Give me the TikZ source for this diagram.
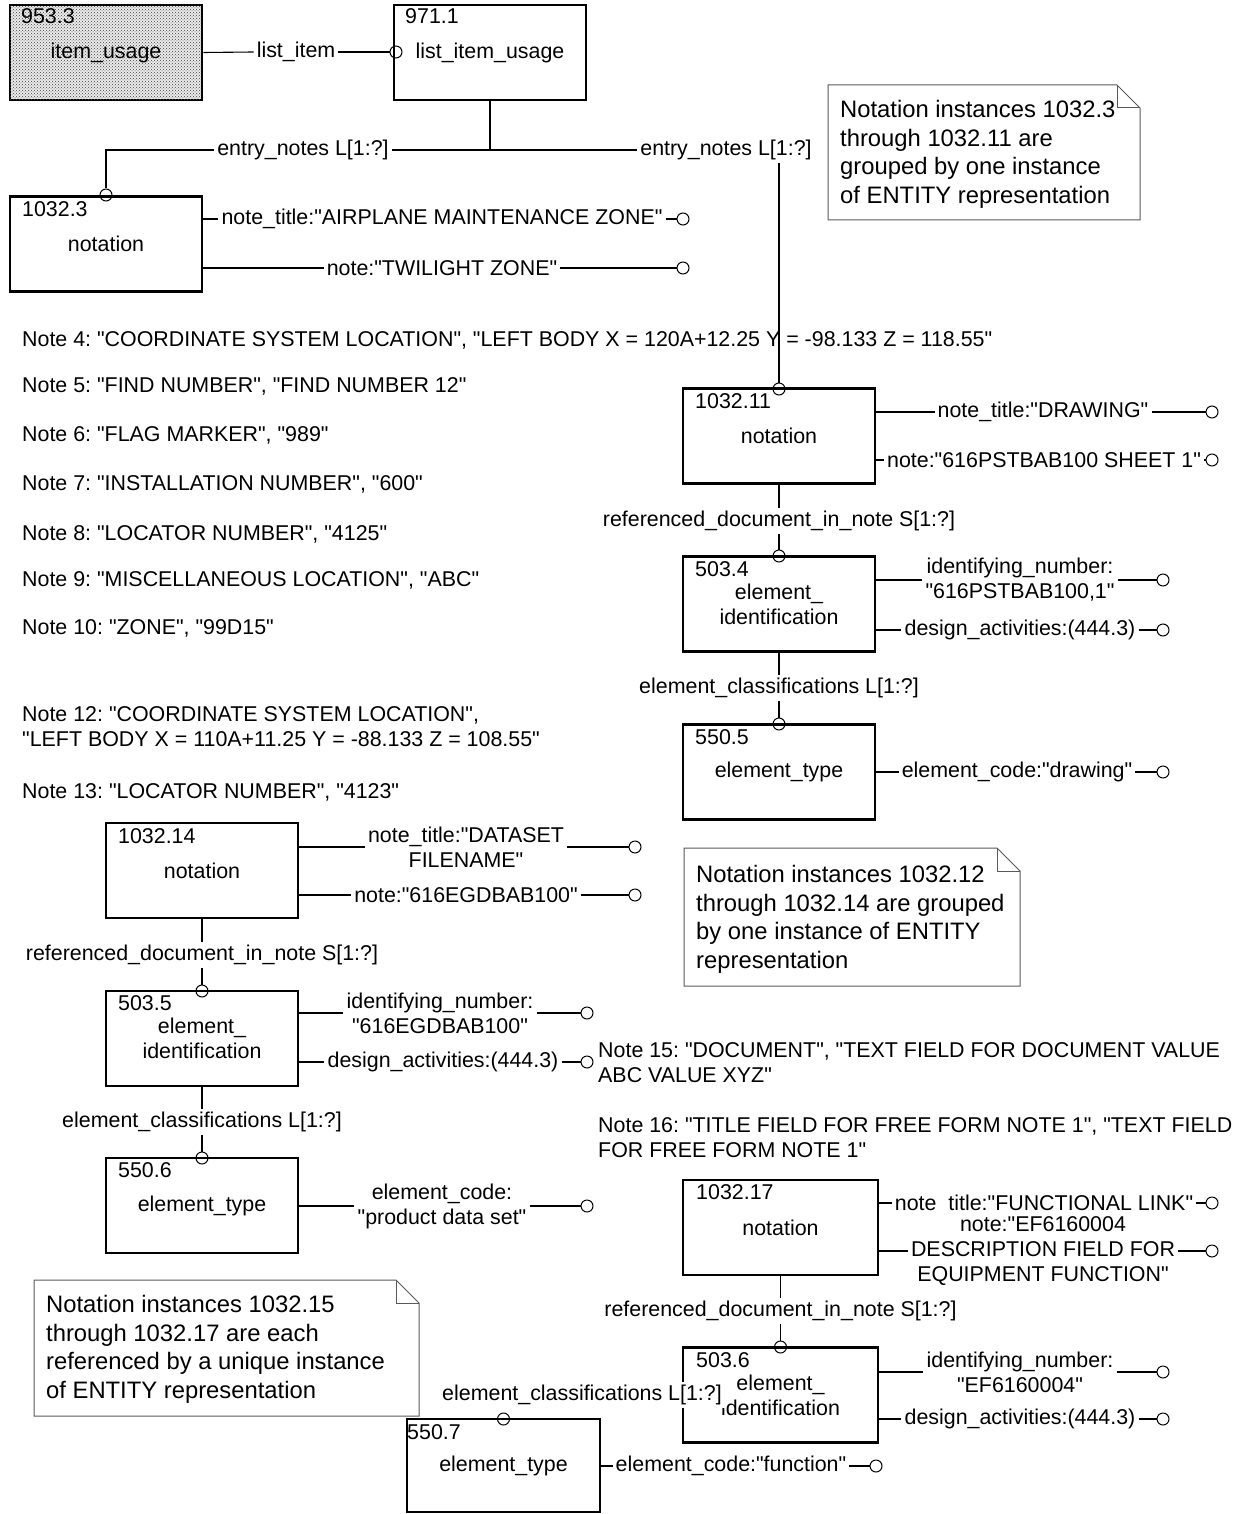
\documentclass[tikz,border=0pt]{standalone}
\usepackage{fontspec}
\setmainfont{Liberation Sans}[Ligatures=TeXOff]
\usetikzlibrary{patterns}
\frenchspacing
\newcommand{\fsmain}{\fontsize{21.4}{25}\selectfont}
\newcommand{\fsnote}{\fontsize{23.8}{28.6}\selectfont}
% attribute row: box, name, label x, y, pin x, text
\newcommand{\attrrow}[6]{%
  \node[lbl] (#2) at (#3,#4) {#6};
  \node[pin] (#2p) at (#5,#4) {};
  \draw[conn] (#1.east |- #2.west) -- (#2.west);
  \draw[conn] (#2.east) -- (#2p.west);}
% memo box with dog-ear: x1, y1, x2, y2
\newcommand{\memobox}[4]{%
  \draw[memo] (#1,#2) -- ({#3-23},#2) -- (#3,{#2+23}) -- (#3,#4) -- (#1,#4) -- cycle;
  \draw[memo] ({#3-23},#2) -- ({#3-23},{#2+23}) -- (#3,{#2+23});}
\begin{document}
\begin{tikzpicture}[x=1pt,y=-1pt,
  every node/.style={font=\fsmain, inner sep=0pt},
  ent/.style={draw, line width=2.8pt, minimum width=192pt, minimum height=95pt, align=center},
  num/.style={anchor=north west},
  lbl/.style={inner sep=3pt, align=center, fill=white},
  pin/.style={circle, draw, line width=1pt, minimum size=12pt, inner sep=0pt},
  conn/.style={line width=1.1pt},
  memo/.style={draw=black!65, line width=1pt},
  memotext/.style={font=\fsnote, align=left, anchor=north west},
  freetext/.style={anchor=west},
  freeblock/.style={anchor=north west, align=left},
]
\useasboundingbox (0,0) rectangle (1249,1514);

% ---------- entities ----------
\node[ent, fill=black!8, postaction={pattern=crosshatch dots, pattern color=black!75}] (iu) at (106,52.5) {};
\node (iut) at (106,52.5) {item\_usage};
\node[num] (iun) at (21,8) {953.3};
\node[ent] (liu) at (490,52.5) {list\_item\_usage};
\node[num] (liun) at (405,8) {971.1};

\node[ent] (n3) at (106,244) {notation};
\node[num] (n3n) at (22,201) {1032.3};

\node[ent] (n11) at (779,436) {notation};
\node[num] (n11n) at (695,393) {1032.11};
\node[ent] (e4) at (779,604) {element\_\\identification};
\node[num] (e4n) at (695,561) {503.4};
\node[ent] (t5) at (779,772) {element\_type};
\node[num] (t5n) at (695,729) {550.5};

\node[ent] (n14) at (202,870.5) {notation};
\node[num] (n14n) at (118,828) {1032.14};
\node[ent] (e5) at (202,1038.5) {element\_\\identification};
\node[num] (e5n) at (118,995) {503.5};
\node[ent] (t6) at (202,1205.5) {element\_type};
\node[num] (t6n) at (118,1162) {550.6};

\node[ent, minimum width=195pt] (n17) at (780.5,1227.5) {notation};
\node[num] (n17n) at (696,1184) {1032.17};
\node[ent, minimum width=195pt] (e6) at (780.5,1395) {element\_\\identification};
\node[num] (e6n) at (696,1352) {503.6};
\node[ent, minimum width=193pt, minimum height=93pt] (t7) at (503.5,1465.5) {element\_type};
\node[num] (t7n) at (407,1424) {550.7};

% ---------- top connectors ----------
\node[lbl] (lli) at (296,52) {list\_item};
\node[pin] (pli) at (396,52) {};
\draw[conn] (iu.east) -- (lli.west);
\draw[conn] (lli.east) -- (pli.west);

\coordinate (j1) at (490,150);
\node[lbl] (en1) at (303,150) {entry\_notes L[1:?]};
\node[lbl] (en2) at (726,150) {entry\_notes L[1:?]};
\node[pin] (p3) at (106,195) {};
\node[pin] (p11) at (779,389) {};
\draw[conn] (liu.south) -- (j1) -- (en1.east);
\draw[conn] (en1.west) -| (p3.north);
\draw[conn] (j1) -- (en2.west);
\draw[conn] (en2.south -| p11.north) -- (p11.north);

% ---------- attributes ----------
\attrrow{n3}{a31}{442}{219}{683}{note\_title:"AIRPLANE MAINTENANCE ZONE"}
\attrrow{n3}{a32}{442}{268}{683}{note:"TWILIGHT ZONE"}
\attrrow{n11}{a111}{1043}{412}{1212}{note\_title:"DRAWING"}
\attrrow{n11}{a112}{1044}{460}{1212}{note:"616PSTBAB100 SHEET 1"}
\attrrow{e4}{a41}{1020}{580}{1163}{identifying\_number:\\"616PSTBAB100,1"}
\attrrow{e4}{a42}{1020}{630}{1163}{design\_activities:(444.3)}
\attrrow{t5}{a51}{1017}{772}{1163}{element\_code:"drawing"}
\attrrow{n14}{a141}{466}{847}{635}{note\_title:"DATASET\\FILENAME"}
\attrrow{n14}{a142}{466}{895}{635}{note:"616EGDBAB100"}
\attrrow{e5}{a151}{440}{1013}{587}{identifying\_number:\\"616EGDBAB100"}
\attrrow{e5}{a152}{443}{1062}{587}{design\_activities:(444.3)}
\attrrow{t6}{a161}{442}{1206}{587}{element\_code:\\"product data set"}
\attrrow{n17}{a171}{1044}{1203}{1212}{note\ \ title:"FUNCTIONAL LINK"}
\attrrow{n17}{a172}{1043}{1251}{1212}{note:"EF6160004\\DESCRIPTION FIELD FOR\\EQUIPMENT FUNCTION"}
\attrrow{e6}{a61}{1020}{1372}{1163}{identifying\_number:\\"EF6160004"}
\attrrow{e6}{a62}{1020}{1419}{1163}{design\_activities:(444.3)}
\attrrow{t7}{a71}{731}{1466}{876}{element\_code:"function"}

% ---------- vertical references ----------
\node[lbl] (r11) at (779,521) {referenced\_document\_in\_note S[1:?]};
\node[pin] (p4) at (779,556) {};
\draw[conn] (n11.south) -- (r11.north);
\draw[conn] (r11.south) -- (p4.north);
\node[lbl] (c4) at (779,688) {element\_classifications L[1:?]};
\node[pin] (p5) at (779,724) {};
\draw[conn] (e4.south) -- (c4.north);
\draw[conn] (c4.south) -- (p5.north);

\node[lbl] (r14) at (202,955) {referenced\_document\_in\_note S[1:?]};
\node[pin] (p14) at (202,991) {};
\draw[conn] (n14.south) -- (r14.north);
\draw[conn] (r14.south) -- (p14.north);
\node[lbl] (c5) at (202,1122) {element\_classifications L[1:?]};
\node[pin] (p15) at (202,1158) {};
\draw[conn] (e5.south) -- (c5.north);
\draw[conn] (c5.south) -- (p15.north);

\node[lbl] (r17) at (780.5,1311) {referenced\_document\_in\_note S[1:?]};
\node[pin] (p17) at (780.5,1347) {};
\draw[conn] (n17.south) -- (r17.north);
\draw[conn] (r17.south) -- (p17.north);
\node[lbl] (c6) at (582,1395) {element\_classifications L[1:?]};
\node[pin] (p7) at (503.5,1419) {};

% ---------- free notes ----------
\node[freetext] (nt4) at (22,340) {Note 4: "COORDINATE SYSTEM LOCATION", "LEFT BODY X = 120A+12.25 Y = -98.133 Z = 118.55"};
\node[freetext] (nt5) at (22,386) {Note 5: "FIND NUMBER", "FIND NUMBER 12"};
\node[freetext] (nt6) at (22,435) {Note 6: "FLAG MARKER", "989"};
\node[freetext] (nt7) at (22,484) {Note 7: "INSTALLATION NUMBER", "600"};
\node[freetext] (nt8) at (22,534) {Note 8: "LOCATOR NUMBER", "4125"};
\node[freetext] (nt9) at (22,580) {Note 9: "MISCELLANEOUS LOCATION", "ABC"};
\node[freetext] (nt10) at (22,628) {Note 10: "ZONE", "99D15"};
\node[freeblock] (nt12) at (22,706) {Note 12: "COORDINATE SYSTEM LOCATION",\\"LEFT BODY X = 110A+11.25 Y = -88.133 Z = 108.55"};
\node[freetext] (nt13) at (22,792) {Note 13: "LOCATOR NUMBER", "4123"};
\node[freeblock] (nt15) at (598,1042) {Note 15: "DOCUMENT", "TEXT FIELD FOR DOCUMENT VALUE\\ABC VALUE XYZ"};
\node[freeblock] (nt16) at (598,1117) {Note 16: "TITLE FIELD FOR FREE FORM NOTE 1", "TEXT FIELD\\FOR FREE FORM NOTE 1"};

% ---------- memo boxes ----------
\memobox{828}{85}{1140}{220}
\node[memotext] (m1) at (840,100) {Notation instances 1032.3\\through 1032.11 are\\grouped by one instance\\of ENTITY representation};
\memobox{684}{848}{1020}{986}
\node[memotext] (m2) at (696,865) {Notation instances 1032.12\\through 1032.14 are grouped\\by one instance of ENTITY\\representation};
\memobox{34}{1280}{419}{1416}
\node[memotext] (m3) at (46,1295) {Notation instances 1032.15\\through 1032.17 are each\\referenced by a unique instance\\of ENTITY representation};
\end{tikzpicture}
\end{document}
